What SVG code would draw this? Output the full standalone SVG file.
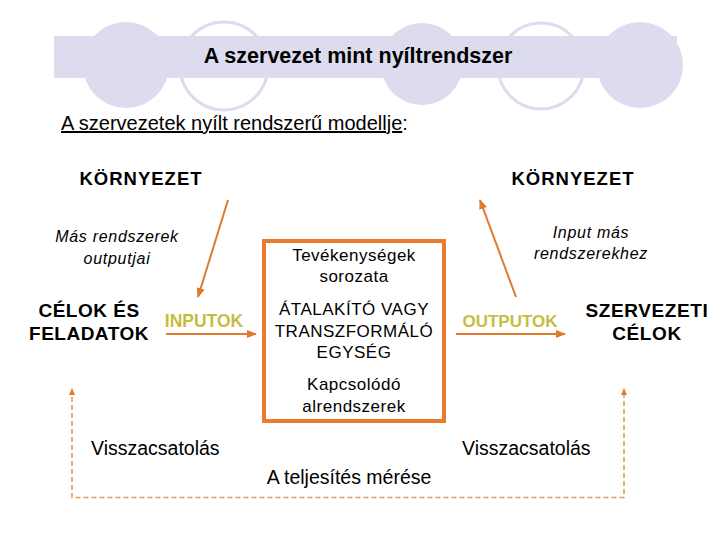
<svg xmlns="http://www.w3.org/2000/svg" width="720" height="540" viewBox="0 0 720 540">
<style>
text{font-family:"Liberation Sans",Arial,sans-serif;fill:#000}
.b{font-weight:bold}
.i{font-style:italic}
.c{text-anchor:middle}
.io{fill:#c6bd3f;font-weight:bold}
.arr{stroke:#e07a2c;stroke-width:2;fill:none}
.fb{stroke:#d9a060;stroke-width:1.6;fill:none;stroke-dasharray:5 3}
.fc{fill:#dcdcee}
.oc{fill:none;stroke:#dcdcee;stroke-width:3}
</style>
<defs>
<marker id="ah" markerUnits="userSpaceOnUse" markerWidth="10" markerHeight="8" refX="9" refY="4" orient="auto"><path d="M0,0 L10,4 L0,8 Z" fill="#e07a2c"/></marker>
<marker id="ahs" markerUnits="userSpaceOnUse" markerWidth="7" markerHeight="6" refX="6" refY="3" orient="auto-start-reverse"><path d="M0,0 L7,3 L0,6 Z" fill="#e8792b"/></marker>
</defs>
<rect width="720" height="540" fill="#fff"/>
<g id="header">
<circle class="fc" cx="126" cy="65" r="43"/>
<circle class="oc" cx="224" cy="66" r="44"/>
<circle class="fc" cx="422" cy="64" r="41"/>
<circle class="oc" cx="541" cy="66" r="43"/>
<circle class="fc" cx="640" cy="65" r="43"/>
<rect class="fc" x="54" y="36" width="623" height="42"/>
<text class="b c" x="358" y="63" font-size="21.5">A szervezet mint nyíltrendszer</text>
</g>
<text x="61" y="130" font-size="20"><tspan text-decoration="underline">A szervezetek nyílt rendszerű modellje</tspan>:</text>
<g id="env-left"><text class="b c" x="141" y="185" font-size="18.5" letter-spacing="1">KÖRNYEZET</text></g>
<g id="env-right"><text class="b c" x="573" y="185" font-size="18.5" letter-spacing="1">KÖRNYEZET</text></g>
<g id="other-outputs"><text class="i c" x="117" y="242" font-size="16" letter-spacing="0.7">Más rendszerek</text><text class="i c" x="117" y="264" font-size="16" letter-spacing="0.7">outputjai</text></g>
<g id="input-other"><text class="i c" x="591" y="238" font-size="16" letter-spacing="0.7">Input más</text><text class="i c" x="591" y="259" font-size="16" letter-spacing="0.7">rendszerekhez</text></g>
<g id="goals"><text class="b c" x="89" y="317" font-size="19" letter-spacing="0.5">CÉLOK ÉS</text><text class="b c" x="89" y="340" font-size="19" letter-spacing="0.5">FELADATOK</text></g>
<g id="org-goals"><text class="b c" x="647" y="317" font-size="19" letter-spacing="0.6">SZERVEZETI</text><text class="b c" x="647" y="340" font-size="19" letter-spacing="0.6">CÉLOK</text></g>
<g id="inputs"><text class="io c" x="204" y="327" font-size="17.5">INPUTOK</text></g>
<g id="outputs"><text class="io c" x="510" y="327" font-size="17">OUTPUTOK</text></g>
<g id="transform-unit">
<rect x="264" y="241" width="180" height="180" fill="none" stroke="#e87b2e" stroke-width="4"/>
<g font-size="17" letter-spacing="0.5">
<text class="c" x="354" y="261">Tevékenységek</text>
<text class="c" x="354" y="282">sorozata</text>
<text class="c" x="354" y="315">ÁTALAKÍTÓ VAGY</text>
<text class="c" x="354" y="337">TRANSZFORMÁLÓ</text>
<text class="c" x="354" y="358">EGYSÉG</text>
<text class="c" x="354" y="390">Kapcsolódó</text>
<text class="c" x="354" y="412">alrendszerek</text>
</g>
</g>
<g id="feedback-labels">
<text x="91" y="455" font-size="19.5">Visszacsatolás</text>
<text x="462" y="455" font-size="19.5">Visszacsatolás</text>
<text class="c" x="349" y="484" font-size="19.5">A teljesítés mérése</text>
</g>
<g id="connectors">
<line class="arr" x1="228" y1="200" x2="198" y2="297" marker-end="url(#ah)"/>
<line class="arr" x1="516" y1="297" x2="480" y2="200" marker-end="url(#ah)"/>
<line class="arr" x1="166" y1="334" x2="256" y2="334" marker-end="url(#ah)"/>
<line class="arr" x1="456" y1="334" x2="565" y2="334" marker-end="url(#ah)"/>
<path class="fb" d="M72,389 V497.5 H624 V389" marker-start="url(#ahs)" marker-end="url(#ahs)"/>
</g>
</svg>
